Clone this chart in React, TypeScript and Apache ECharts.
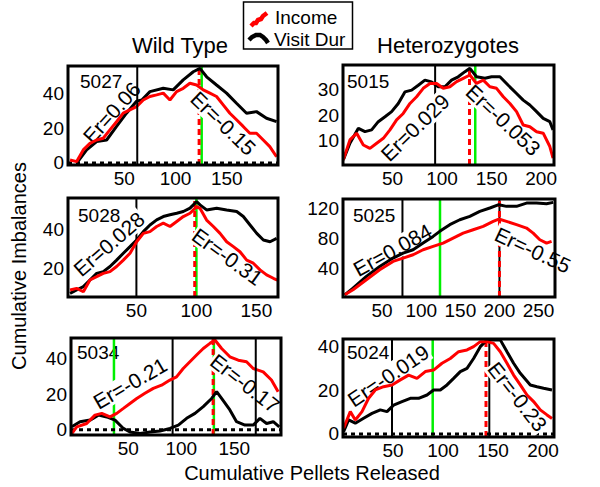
import React, { useEffect, useRef } from "react";
import * as echarts from "echarts";

const FONT = '"Liberation Sans", Arial, Helvetica, sans-serif';
const RED = "#ff0000";
const GREEN = "#00f000";
const BLACK = "#000000";

// ---------- texts ----------
const legendNames = ["Income", "Visit Dur"];
const groupTitles = ["Wild Type", "Heterozygotes"];
const xTitle = "Cumulative Pellets Released";
const yTitle = "Cumulative Imbalances";
const animalIds = ["5027", "5015", "5028", "5025", "5034", "5024"];
const erRising = ["Er=0.06", "Er=0.029", "Er=0.028", "Er=0.084", "Er=-0.21", "Er=-0.019"];
const erFalling = ["Er=-0.15", "Er=-0.053", "Er=-0.31", "Er=-0.55", "Er=-0.17", "Er=-0.23"];

// ---------- 5027 ----------
const income5027 = [[-3,1.7],[3.5,0.8],[9.9,7.5],[16.4,11.3],[22.9,13.2],[29.4,14.2],[35.9,19],[42.4,23.7],[48.9,28.6],[55.4,30.5],[61.9,32.4],[68.5,36.2],[75,38.2],[81.5,39.1],[88,40.1],[94.5,36.2],[101,41],[107.5,42.9],[114,45.8],[120.5,44.8],[127,42],[133.5,40.1],[140,38.2],[146.5,33.4],[153,28.6],[159.5,24.8],[166,21],[172.5,17.1],[179,17.1],[185.6,13.2],[192,9.4],[198.6,3.6]];
const visit5027 = [[3.5,0],[13.2,7.5],[22.9,12.3],[32.7,13.2],[42.4,21],[52.1,28.6],[61.9,35.5],[67,36.2],[75,41],[88,42.9],[97.7,42],[107.5,47.7],[117.3,52.4],[123.8,54.3],[130.3,49.5],[140,44.8],[149.8,40.1],[159.5,34.3],[169.3,28.6],[179,29.5],[188.8,25.7],[198.6,23.8]];
const xRange5027 = [-5, 200];
const yRange5027 = [-1.15, 55.7];
const xTicks5027 = [50, 100, 150];
const yTicks5027 = [0, 20, 40];
const black5027 = [];
const blackTop5027 = [62.6];
const redDash5027 = [123];
const green5027 = [125.5];

// ---------- 5015 ----------
const income5015 = [[0.3,2.5],[7,10.3],[13.8,12.9],[20.5,8.3],[27.2,7],[34,9],[40.7,10.9],[47.4,14.2],[54.1,18.1],[60.8,20.6],[67.6,24.5],[74.3,27.1],[81,30.4],[87.8,32.3],[94.5,32.3],[101.2,30.4],[107.9,31],[114.7,33],[121.4,34.3],[128.1,35.6],[134.8,32.3],[141.6,33.6],[148.3,31],[155,30.4],[161.8,27.1],[168.5,24.5],[175.2,21.3],[181.9,16.1],[188.6,15.4],[195.4,13.5],[202.1,12.9],[208.8,7.7],[212,3.2]];
const visit5015 = [[0.3,2.5],[7,9],[15.5,14.8],[22.2,13.5],[28.9,14.2],[35.6,17.4],[42.4,19.3],[49.1,21.3],[55.8,24.5],[62.5,29],[69.3,29.7],[76,31.6],[82.7,33.6],[89.4,32.9],[96.2,31],[102.9,31],[109.6,33.6],[116.3,34.9],[123.1,36.9],[128.1,38.2],[134.8,34.9],[143.3,34.3],[150,34.9],[158.4,34.9],[166.8,31.6],[175.2,28.4],[181.9,25.8],[188.6,23.9],[195.4,21.3],[202.1,18.7],[208.8,17.4],[212,14.2]];
const xRange5015 = [0, 213];
const yRange5015 = [0.5, 39.5];
const xTicks5015 = [50, 100, 150, 200];
const yTicks5015 = [10, 20, 30];
const black5015 = [93];
const blackTop5015 = [];
const redDash5015 = [127.7];
const green5015 = [133.5];

// ---------- 5028 ----------
const income5028 = [[-5.3,8.9],[0.2,9.7],[5.8,8],[11.3,14],[16.9,15.7],[22.4,17.4],[28,18.3],[33.5,20.9],[39.1,24.2],[44.7,27.7],[50.2,33.6],[55.8,37.9],[61.3,38.8],[66.9,41.4],[72.4,43.1],[78,41.4],[83.6,44],[89.1,46.5],[94.7,48.2],[100.2,51.6],[103,50.7],[108.5,44.7],[114.1,41.4],[119.7,37.9],[125.2,33.6],[130.8,31.1],[136.3,28.5],[141.9,24.2],[147.4,22.6],[153,19.2],[158.5,16.6],[164.1,14.9],[167.4,14]];
const visit5028 = [[-5.3,7.2],[0.2,8.9],[5.8,10.6],[11.3,14],[16.9,17.4],[22.4,18.3],[28,20.9],[33.5,24.2],[39.1,27.7],[44.7,31.1],[50.2,34.5],[55.8,38.8],[61.3,42.2],[66.9,44.8],[72.4,46.5],[78,47.4],[83.6,48.2],[89.1,49.1],[94.7,50.8],[100.2,54.2],[103,52.5],[108.5,49.9],[116.9,50.8],[125.2,49.9],[133.6,49.1],[139.1,46.5],[144.7,42.2],[150.3,37.9],[155.8,34.5],[161.4,33.6],[166.9,35.3]];
const xRange5028 = [-7, 168];
const yRange5028 = [5.3, 56];
const xTicks5028 = [50, 100, 150];
const yTicks5028 = [20, 40];
const black5028 = [50];
const blackTop5028 = [];
const redDash5028 = [98.6];
const green5028 = [100];

// ---------- 5025 ----------
const income5025 = [[2.2,4.4],[12.8,11.1],[29.9,24.4],[46.9,37.7],[64,48.9],[76.8,53.3],[89.6,57.8],[102.4,64.4],[115.2,68.9],[128,73.3],[140.8,80],[153.6,86.6],[166.4,91.1],[179.2,95.5],[192,102.2],[199.2,105.3],[209,102.2],[221.8,97.8],[234.6,93.3],[243.1,86.6],[251.6,77.7],[260.2,73.3],[266.6,75.5]];
const visit5025 = [[2.2,4.4],[12.8,13.3],[29.9,28.9],[46.9,42.2],[64,53.3],[76.8,60],[89.6,64.4],[102.4,73.3],[115.2,82.2],[123.7,88.9],[136.5,97.8],[149.3,104.4],[162.1,108.9],[174.9,115.6],[187.7,120],[199.2,124.4],[209,122.2],[221.8,122.2],[234.6,126.6],[247.4,126.6],[260.2,125.7],[268.7,127.5]];
const xRange5025 = [0, 271];
const yRange5025 = [1.5, 132];
const xTicks5025 = [50, 100, 150, 200, 250];
const yTicks5025 = [40, 80, 120];
const black5025 = [76, 200];
const blackTop5025 = [];
const redDash5025 = [200];
const green5025 = [124];

// ---------- 5034 ----------
const income5034 = [[-3.3,-2.2],[1.4,1.6],[10.8,3.5],[18.6,8.2],[25,9.2],[32.8,7.2],[39.1,9.2],[45.4,12],[51.6,14.8],[58,17.6],[65.7,20.5],[73.6,23.3],[81.4,25.1],[89.3,28],[95.5,29.8],[101.8,34.5],[108.1,38.3],[114.4,42.1],[120.7,45.8],[127,48.7],[131.7,50.6],[138,45.8],[145.8,41.1],[153.7,39.2],[161.5,38.3],[167.8,34.5],[177.2,32.6],[185,28],[191.3,21.4]];
const visit5034 = [[-3.3,1.6],[4.5,4.5],[14,5.4],[21.8,8.2],[29.7,7.2],[37.5,5.4],[45.4,0.7],[51.6,-1.3],[61.1,-2.2],[70.5,-1.3],[79.9,-0.7],[89.3,0.7],[97.2,2.6],[105,6.4],[112.9,9.2],[120.7,13],[128.6,17.6],[133.3,21.4],[138,17.6],[145.8,11.1],[152.1,4.5],[160,2.6],[167.8,2.6],[174.1,6.4],[180.4,3.5],[186.7,4.5],[192.4,1.6]];
const xRange5034 = [-4, 194];
const yRange5034 = [-3, 51.7];
const xTicks5034 = [50, 100, 150];
const yTicks5034 = [0, 20, 40];
const black5034 = [91.8];
const blackTop5034 = [170.2];
const redDash5034 = [130];
const green5034 = [36.5, 130.7];

// ---------- 5024 ----------
const income5024 = [[0.6,2.6],[7.3,10.2],[12.3,6.4],[19,10.2],[25.6,16.3],[32.3,20.1],[40.6,21.6],[49,22.4],[57.3,24.7],[65.6,26.9],[74,25.4],[82.3,28.5],[90.6,29.2],[99,32.3],[107.3,34.5],[115.6,37.6],[124,38.4],[130.6,39.9],[137.3,42.2],[144,42.2],[150.6,41.4],[157.3,37.6],[164,32.3],[170.6,26.9],[177.3,22.4],[184,17.8],[190.6,14.8],[197.3,11],[204,8.7],[209,7.1]];
const visit5024 = [[0.6,1.1],[5.6,6.4],[12.3,4.9],[20.6,7.2],[29,9.4],[37.3,11],[44,10.2],[50.6,13.2],[59,14.8],[67.3,16.3],[75.6,16.3],[84,17.8],[90.6,20.1],[97.3,20.1],[104,22.4],[110.6,25.4],[117.3,28.5],[124,30],[130.6,34.5],[137.3,39.9],[142.3,42.2],[149,43],[157.3,43],[164,37.6],[170.6,32.3],[177.3,27.7],[187.3,22.4],[194,21.6],[200.6,20.9],[209,20.1]];
const xRange5024 = [0, 211];
const yRange5024 = [-1.4, 43.4];
const xTicks5024 = [50, 100, 150, 200];
const yTicks5024 = [0, 20, 40];
const black5024 = [49, 146.3];
const blackTop5024 = [];
const redDash5024 = [143];
const green5024 = [89.7];

const zeroLinePanels = [true, false, false, false, true, true];

// ---------- assembled (data references) ----------
const panelData = [
  { income: income5027, visit: visit5027, xr: xRange5027, yr: yRange5027, xt: xTicks5027, yt: yTicks5027, black: black5027, blackTop: blackTop5027, red: redDash5027, green: green5027 },
  { income: income5015, visit: visit5015, xr: xRange5015, yr: yRange5015, xt: xTicks5015, yt: yTicks5015, black: black5015, blackTop: blackTop5015, red: redDash5015, green: green5015 },
  { income: income5028, visit: visit5028, xr: xRange5028, yr: yRange5028, xt: xTicks5028, yt: yTicks5028, black: black5028, blackTop: blackTop5028, red: redDash5028, green: green5028 },
  { income: income5025, visit: visit5025, xr: xRange5025, yr: yRange5025, xt: xTicks5025, yt: yTicks5025, black: black5025, blackTop: blackTop5025, red: redDash5025, green: green5025 },
  { income: income5034, visit: visit5034, xr: xRange5034, yr: yRange5034, xt: xTicks5034, yt: yTicks5034, black: black5034, blackTop: blackTop5034, red: redDash5034, green: green5034 },
  { income: income5024, visit: visit5024, xr: xRange5024, yr: yRange5024, xt: xTicks5024, yt: yTicks5024, black: black5024, blackTop: blackTop5024, red: redDash5024, green: green5024 },
];

// ---------- layout (pixels) ----------
const gridBoxes = [
  [68, 66, 210, 99],
  [343, 65, 211, 100],
  [68, 198, 210, 99],
  [343, 199, 212, 98],
  [71, 338, 210, 97],
  [343, 339, 211, 98],
];
const idPos = [[80, 81], [347, 81], [78, 215], [353, 215], [77, 352], [347, 352]];
const erRisePos = [[111.7, 112.5, 48], [415, 127.5, 44], [109, 244, 41], [392.5, 250, 29], [130, 383.3, 30], [388.3, 375.8, 34]];
const erFallPos = [[223.3, 123.3, -44], [503.3, 120, -43], [227.5, 256.7, -36], [532.8, 250, -25], [245, 383.3, -38], [517.5, 396.7, -52]];

const deg = (d: number) => (d * Math.PI) / 180;

function buildOption() {
  const grid: any[] = [];
  const xAxis: any[] = [];
  const yAxis: any[] = [];
  const series: any[] = [];
  const graphic: any[] = [];

  panelData.forEach((p, i) => {
    const [gl, gt, gw, gh] = gridBoxes[i];
    grid.push({ left: gl, top: gt, width: gw, height: gh, show: false });
    const labelStyle = { color: BLACK, fontSize: 19, fontFamily: FONT };
    xAxis.push({
      type: "value", gridIndex: i, min: p.xr[0], max: p.xr[1],
      axisLine: { show: false }, axisTick: { show: false }, splitLine: { show: false },
      axisLabel: { ...labelStyle, margin: 4, customValues: p.xt },
    });
    yAxis.push({
      type: "value", gridIndex: i, min: p.yr[0], max: p.yr[1],
      axisLine: { show: false }, axisTick: { show: false }, splitLine: { show: false },
      axisLabel: { ...labelStyle, margin: 4, customValues: p.yt },
    });

    const vline = (x: number, color: string, width: number, dashed: boolean, z: number) => ({
      type: "line", xAxisIndex: i, yAxisIndex: i, silent: true, symbol: "none", z,
      data: [[x, p.yr[0]], [x, p.yr[1]]],
      lineStyle: { color, width, type: dashed ? [6, 4] : "solid" },
    });
    p.black.forEach((x) => series.push(vline(x, BLACK, 2, false, 1)));
    p.green.forEach((x) => series.push(vline(x, GREEN, 2.5, false, 1)));
    p.red.forEach((x) => series.push(vline(x, RED, 3, true, 2)));
    if (zeroLinePanels[i]) {
      series.push({
        type: "line", xAxisIndex: i, yAxisIndex: i, silent: true, symbol: "none", z: 2,
        data: [[p.xr[0], 0], [p.xr[1], 0]],
        lineStyle: { color: BLACK, width: 3, type: [4, 4] },
      });
    }
    series.push({
      name: legendNames[1], type: "line", xAxisIndex: i, yAxisIndex: i, silent: true,
      symbol: "none", z: 4, data: p.visit, lineStyle: { color: BLACK, width: 3 },
    });
    series.push({
      name: legendNames[0], type: "line", xAxisIndex: i, yAxisIndex: i, silent: true,
      symbol: "none", z: 5, data: p.income, lineStyle: { color: RED, width: 3 },
    });
    p.blackTop.forEach((x) => series.push(vline(x, BLACK, 2, false, 6)));

    // panel id
    graphic.push({
      type: "text", x: idPos[i][0], y: idPos[i][1], z: 0, silent: true,
      style: { text: animalIds[i], fontSize: 19, fontFamily: FONT, fill: BLACK, align: "left", verticalAlign: "middle" },
    });
    // Er labels
    const er = (txt: string, pos: number[]) => ({
      type: "text", x: pos[0], y: pos[1], rotation: deg(pos[2]), z: 3, silent: true,
      style: {
        text: txt, fontSize: 21, fontFamily: FONT, fill: BLACK, align: "center", verticalAlign: "middle",
        backgroundColor: "#ffffff", padding: [0, 1],
      },
    });
    graphic.push(er(erRising[i], erRisePos[i]));
    graphic.push(er(erFalling[i], erFallPos[i]));
    // frame
    graphic.push({
      type: "rect", z: 20, silent: true,
      shape: { x: gl, y: gt, width: gw, height: gh },
      style: { fill: "none", stroke: BLACK, lineWidth: 3 },
    });
  });

  // titles
  graphic.push({
    type: "text", x: 180, y: 45, z: 1, silent: true,
    style: { text: groupTitles[0], fontSize: 22, fontFamily: FONT, fill: BLACK, align: "center", verticalAlign: "middle" },
  });
  graphic.push({
    type: "text", x: 448, y: 45, z: 1, silent: true,
    style: { text: groupTitles[1], fontSize: 22, fontFamily: FONT, fill: BLACK, align: "center", verticalAlign: "middle" },
  });
  // axis titles
  graphic.push({
    type: "text", x: 312, y: 473, z: 1, silent: true,
    style: { text: xTitle, fontSize: 20, fontFamily: FONT, fill: BLACK, align: "center", verticalAlign: "middle" },
  });
  graphic.push({
    type: "text", x: 19, y: 266, rotation: Math.PI / 2, z: 1, silent: true,
    style: { text: yTitle, fontSize: 20, fontFamily: FONT, fill: BLACK, align: "center", verticalAlign: "middle" },
  });

  // legend
  graphic.push({
    type: "rect", z: 30, silent: true,
    shape: { x: 243.5, y: 2, width: 109, height: 47 },
    style: { fill: "#ffffff", stroke: BLACK, lineWidth: 1.5 },
  });
  graphic.push({
    type: "polyline", z: 31, silent: true,
    shape: { points: [[251, 26], [254, 23], [256, 23], [258, 20], [261, 19], [263, 16], [267, 13]] },
    style: { stroke: RED, lineWidth: 4.5, fill: "none" },
  });
  graphic.push({
    type: "polyline", z: 31, silent: true,
    shape: { points: [[249, 40], [252, 37], [256, 35], [260, 35], [263, 37], [266, 40], [268, 43]] },
    style: { stroke: BLACK, lineWidth: 4.5, fill: "none" },
  });
  graphic.push({
    type: "text", x: 275, y: 17, z: 31, silent: true,
    style: { text: legendNames[0], fontSize: 19, fontFamily: FONT, fill: BLACK, align: "left", verticalAlign: "middle" },
  });
  graphic.push({
    type: "text", x: 274, y: 39, z: 31, silent: true,
    style: { text: legendNames[1], fontSize: 19, fontFamily: FONT, fill: BLACK, align: "left", verticalAlign: "middle" },
  });

  return {
    animation: false,
    backgroundColor: "#ffffff",
    textStyle: { fontFamily: FONT },
    grid, xAxis, yAxis, series, graphic,
  };
}

export default function App() {
  const ref = useRef<HTMLDivElement>(null);
  useEffect(() => {
    document.body.style.margin = "0";
    if (!ref.current) return;
    const chart = echarts.init(ref.current, undefined, { renderer: "svg" });
    chart.setOption(buildOption() as any);
    return () => chart.dispose();
  }, []);
  return <div ref={ref} style={{ position: "absolute", left: 0, top: 0, width: 600, height: 487 }} />;
}
